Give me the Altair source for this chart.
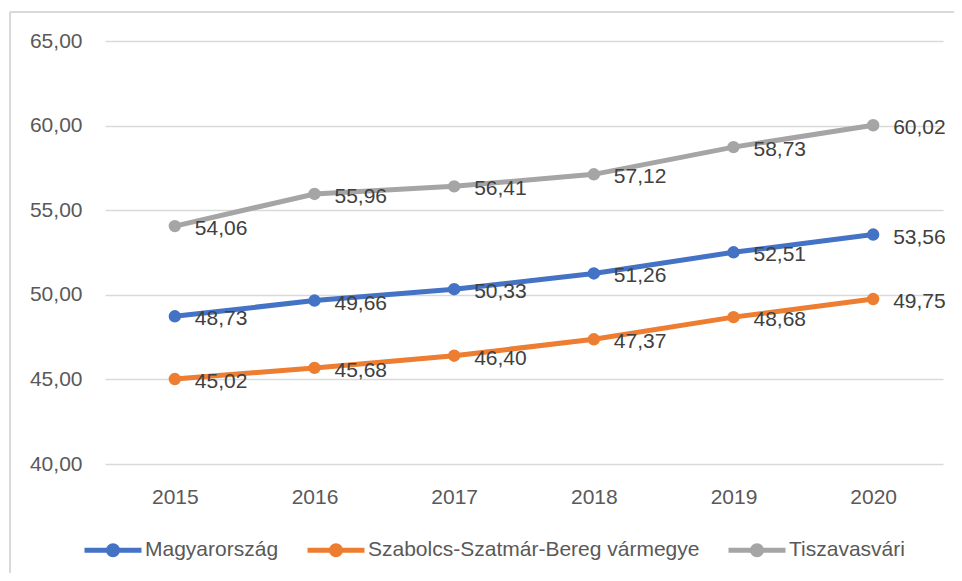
import altair as alt
import pandas as pd

years = ["2015", "2016", "2017", "2018", "2019", "2020"]
series_names = ["Magyarország", "Szabolcs-Szatmár-Bereg vármegye", "Tiszavasvári"]
magyarorszag = [48.73, 49.66, 50.33, 51.26, 52.51, 53.56]
szabolcs = [45.02, 45.68, 46.40, 47.37, 48.68, 49.75]
tiszavasvari = [54.06, 55.96, 56.41, 57.12, 58.73, 60.02]
colors = ["#4472C4", "#ED7D31", "#A5A5A5"]
y_ticks = [40, 45, 50, 55, 60, 65]

rows = []
for name, vals in zip(series_names, [magyarorszag, szabolcs, tiszavasvari]):
    for yr, v in zip(years, vals):
        rows.append({"year": yr, "series": name, "value": v})
df = pd.DataFrame(rows)

FONT = "Liberation Sans"
TXT = "#595959"

legend_path = ("M-1,0L1,0"
               "M-0.158,0A0.158,0.158,0,1,1,0.158,0A0.158,0.158,0,1,1,-0.158,0"
               "M-0.07,0A0.07,0.07,0,1,1,0.07,0A0.07,0.07,0,1,1,-0.07,0")

x_enc = alt.X("year:O", sort=years,
              scale=alt.Scale(type="point", padding=0.5),
              axis=alt.Axis(title=None, labelAngle=0, ticks=False, domain=False,
                            labelPadding=22, labelFontSize=21, labelColor=TXT,
                            labelFont=FONT, grid=False))
y_enc = alt.Y("value:Q", scale=alt.Scale(domain=[40, 65], nice=False, zero=False),
              axis=alt.Axis(title=None, values=y_ticks, ticks=False, domain=False,
                            labelExpr="replace(format(datum.value, '.2f'), '.', ',')",
                            labelPadding=23, labelFontSize=21, labelColor=TXT,
                            labelFont=FONT, grid=True, gridColor="#d9d9d9",
                            gridWidth=1.5))
color_enc = alt.Color("series:N", sort=series_names,
                      scale=alt.Scale(domain=series_names, range=colors),
                      legend=alt.Legend(title=None, orient="none", direction="horizontal",
                                        legendX=-23, legendY=478,
                                        symbolType=legend_path, symbolSize=3249,
                                        symbolStrokeWidth=5, labelOffset=1,
                                        columnPadding=18, labelFontSize=21,
                                        labelFont=FONT, labelColor=TXT,
                                        padding=0, labelLimit=500))

base = alt.Chart(df)
lines = base.mark_line(strokeWidth=5).encode(x=x_enc, y=y_enc, color=color_enc,
                                              detail="series:N")
points = base.mark_point(filled=True, size=154, opacity=1).encode(
    x=x_enc, y=y_enc, color=color_enc)
labels = base.transform_calculate(
    lbl="replace(format(datum.value, '.2f'), '.', ',')"
).mark_text(align="left", baseline="middle", dx=20, dy=3, fontSize=21,
            font=FONT, color="#404040").encode(x=x_enc, y=y_enc, text="lbl:N")

frame_df = pd.DataFrame({"k": [0]})
border_left = alt.Chart(frame_df).mark_rule(color="#d9d9d9", strokeWidth=2).encode(
    x=alt.value(-95), y=alt.value(-29), y2=alt.value(620))
border_top = alt.Chart(frame_df).mark_rule(color="#d9d9d9", strokeWidth=2).encode(
    x=alt.value(-95), x2=alt.value(900), y=alt.value(-29))

chart = alt.layer(border_left, border_top, lines, points, labels).properties(
    width=838, height=423,
    background="white",
    autosize=alt.AutoSizeParams(type="none"),
    padding={"left": 97, "top": 33, "right": 11, "bottom": 109},
).configure_view(stroke="transparent", strokeWidth=0)

chart.save("out.html", embed_options={"renderer": "svg", "actions": False})
